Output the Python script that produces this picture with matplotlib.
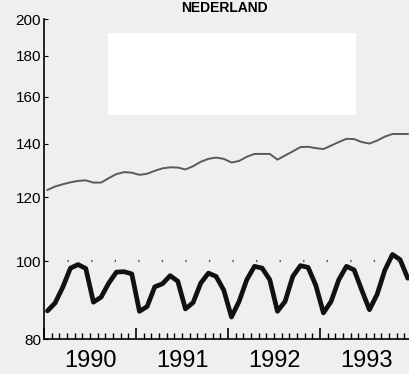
import matplotlib.pyplot as plt
import matplotlib.patches as patches
from matplotlib.ticker import FixedLocator, NullFormatter
import numpy as np

plt.rcParams['font.family'] = ['Liberation Sans Narrow', 'Liberation Sans', 'DejaVu Sans']

# maandelijkse reeksen 1990-1993
bovenste = [122.6, 123.8, 124.6, 125.3, 125.8, 126.0, 125.2, 125.2, 126.8, 128.3, 129.0, 128.8,
            128.0, 128.4, 129.5, 130.4, 130.8, 130.7, 130.0, 131.2, 132.9, 134.0, 134.5, 134.0,
            132.6, 133.2, 134.8, 135.9, 135.9, 135.9, 133.7, 135.3, 136.9, 138.6, 138.7, 138.2,
            137.8, 139.2, 140.6, 141.9, 141.8, 140.6, 140.0, 141.2, 142.8, 143.9, 143.9, 143.9]
onderste = [86.7, 88.7, 92.8, 98.0, 99.0, 97.9, 88.9, 90.2, 93.9, 96.9, 97.0, 96.4,
            86.6, 87.8, 92.9, 93.7, 95.9, 94.4, 87.2, 88.8, 93.9, 96.6, 95.7, 92.0,
            85.2, 89.1, 94.8, 98.5, 98.0, 94.8, 86.6, 89.1, 95.7, 98.7, 98.2, 93.3,
            86.2, 89.1, 94.8, 98.5, 97.5, 92.0, 87.0, 90.9, 97.4, 101.9, 100.4, 95.2]
jaren = [1990, 1991, 1992, 1993]
y_ticks = [80, 100, 120, 140, 160, 180, 200]

maanden = 1990 + (np.arange(len(bovenste)) + 0.45) / 12

fig = plt.figure(figsize=(4.09, 3.74), dpi=100, facecolor='#efefef')
# lichtere vlek van de scan
fig.patches.append(patches.Rectangle((108 / 409, 1 - 115 / 374), 248 / 409, 82 / 374,
                                     transform=fig.transFigure, facecolor='white',
                                     edgecolor='none', zorder=0))

ax = fig.add_axes([44 / 409, 35 / 374, 365 / 409, 320 / 374])
ax.set_facecolor('none')

ax.plot(maanden, bovenste, color='#5a5a5a', lw=1.4, solid_joinstyle='round')
ax.plot(maanden, onderste, color='#111111', lw=3.4, solid_joinstyle='round',
        solid_capstyle='round')
ax.axhline(100, color='#555555', lw=1.6, linestyle=(0, (0.6, 10)))

ax.set_yscale('log')
ax.set_ylim(80, 200)
ax.set_xlim(1990, 1990 + 365 / 92)

ax.yaxis.set_major_locator(FixedLocator(y_ticks))
ax.yaxis.set_minor_locator(FixedLocator([]))
ax.yaxis.set_minor_formatter(NullFormatter())
ax.set_yticklabels([str(v) for v in y_ticks])
ax.tick_params(axis='y', direction='in', length=3, width=0.8, labelsize=11, pad=2)

ax.xaxis.set_major_locator(FixedLocator([1990, 1991, 1992, 1993, 1994]))
ax.xaxis.set_minor_locator(FixedLocator(1990 + np.arange(1, 48) / 12))
ax.xaxis.set_major_formatter(NullFormatter())
ax.tick_params(axis='x', which='major', direction='in', length=8, width=1.2)
ax.tick_params(axis='x', which='minor', direction='in', length=4, width=1.0)

for j in jaren:
    ax.text(j + 0.5, -0.035, str(j), transform=ax.get_xaxis_transform(),
            ha='center', va='top', fontsize=17)

for s in ['top', 'right']:
    ax.spines[s].set_visible(False)
ax.spines['left'].set_linewidth(1.2)
ax.spines['bottom'].set_linewidth(1.2)

fig.text(224 / 409, 1 - 1 / 374, 'NEDERLAND', ha='center', va='top',
         fontsize=10, fontweight='bold')

fig.savefig('out.png', dpi=100, facecolor=fig.get_facecolor())
